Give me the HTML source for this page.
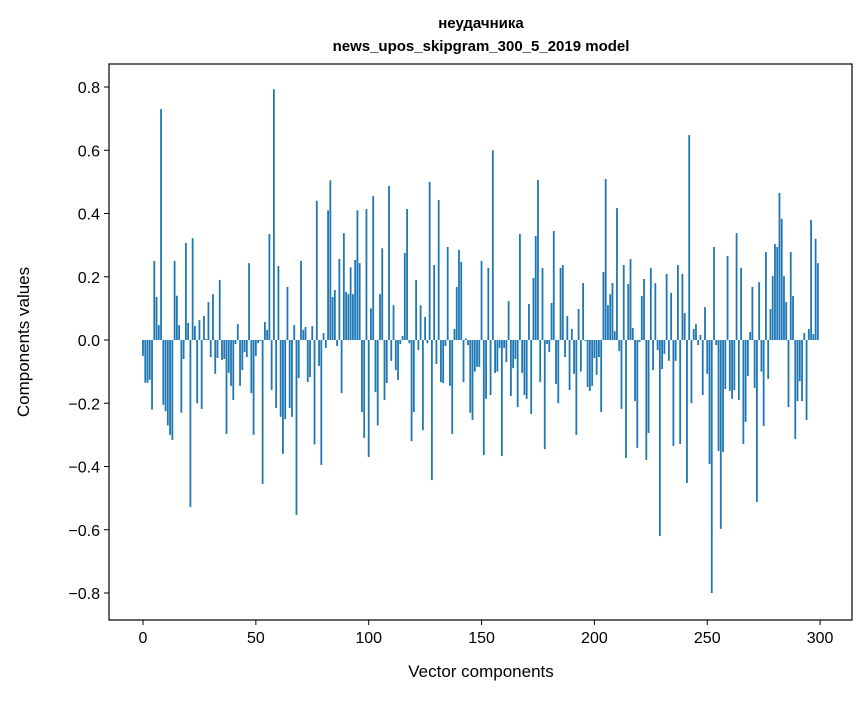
<!DOCTYPE html>
<html><head><meta charset="utf-8"><style>
body{margin:0;background:#fff;}
svg text{font-family:"Liberation Sans","DejaVu Sans",sans-serif;fill:#000;}
</style></head><body>
<svg id="chart" width="867" height="696" xmlns="http://www.w3.org/2000/svg">
<rect width="867" height="696" fill="#fff"/>
<text x="481" y="28" text-anchor="middle" font-size="15" font-weight="bold">неудачника</text>
<text x="481" y="51" text-anchor="middle" font-size="15" font-weight="bold">news_upos_skipgram_300_5_2019 model</text>
<g id="bars"></g>
<g id="axes"></g>
<rect x="109" y="64" width="743" height="556" fill="none" stroke="#000" stroke-width="1.2"/>
<text x="481" y="677" text-anchor="middle" font-size="17">Vector components</text>
<text transform="translate(29,342) rotate(-90)" text-anchor="middle" font-size="17">Components values</text>
</svg>
<script>
const values=[-0.05,-0.135,-0.135,-0.126,-0.22,0.25,0.136,0.047,0.73,-0.205,-0.225,-0.27,-0.30,-0.316,0.25,0.14,0.047,-0.23,-0.06,0.307,0.054,-0.528,0.322,0.044,-0.2,0.063,-0.218,0.076,0.003,0.12,-0.054,0.145,-0.107,-0.057,0.19,-0.063,-0.06,-0.297,-0.104,-0.145,-0.19,-0.013,0.05,-0.145,-0.095,-0.038,-0.054,0.243,-0.168,-0.3,
-0.05,-0.01,-0.003,-0.455,0.057,0.032,0.335,-0.158,0.793,-0.215,0.234,-0.243,-0.36,-0.25,0.168,-0.215,-0.243,0.047,-0.553,-0.12,0.25,0.032,0.041,-0.133,-0.117,0.044,-0.33,0.44,-0.082,-0.395,0.022,-0.025,0.41,0.505,0.136,0.158,-0.019,0.256,-0.168,0.338,0.152,0.145,0.23,0.145,0.253,0.41,0.243,-0.228,-0.31,0.414,
-0.37,0.1,0.455,-0.165,-0.27,0.145,0.29,-0.19,-0.136,0.487,-0.066,0.11,-0.095,-0.126,-0.013,0.013,0.275,0.414,-0.01,-0.32,-0.228,0.19,-0.032,0.11,-0.285,0.073,-0.01,0.5,-0.443,0.237,-0.076,0.443,-0.133,-0.136,-0.019,0.294,-0.145,-0.297,0.035,0.168,0.285,0.247,-0.133,0.005,-0.016,-0.23,-0.253,-0.1,-0.085,-0.085,
0.25,-0.364,-0.186,0.228,-0.174,0.6,-0.104,-0.1,-0.025,-0.367,-0.025,-0.07,0.123,-0.177,-0.089,-0.06,-0.212,0.335,-0.104,-0.174,-0.186,0.114,-0.234,0.196,0.329,0.506,-0.133,0.228,-0.345,-0.013,-0.038,0.117,0.345,-0.139,-0.2,0.228,0.237,-0.054,0.076,-0.158,0.035,-0.107,-0.3,0.098,-0.1,0.18,-0.003,-0.149,-0.161,-0.145,
-0.057,-0.11,-0.054,-0.228,0.215,0.509,0.11,0.145,0.18,0.028,0.417,-0.035,-0.218,0.237,-0.373,0.177,0.256,0.038,-0.193,-0.341,-0.006,0.139,0.193,-0.379,-0.294,0.228,-0.095,0.18,-0.032,-0.62,-0.092,-0.044,0.209,-0.066,0.149,-0.335,-0.066,0.237,-0.329,0.209,0.085,-0.452,0.648,-0.2,0.035,0.05,-0.016,0.016,-0.174,0.104,
-0.107,-0.392,-0.8,0.294,-0.016,-0.351,-0.597,-0.354,-0.155,0.266,-0.161,-0.186,-0.158,0.338,-0.19,0.228,-0.329,-0.259,-0.114,0.025,0.168,-0.152,-0.512,0.183,-0.1,-0.272,0.278,-0.123,0.098,0.202,0.303,0.294,0.465,0.383,0.202,0.12,-0.212,0.278,0.139,-0.313,-0.193,-0.13,-0.193,0.022,-0.253,0.035,0.38,0.019,0.32,0.243];
const xTicks=[0,50,100,150,200,250,300];
const yTicks=[-0.8,-0.6,-0.4,-0.2,0.0,0.2,0.4,0.6,0.8];
const NS="http://www.w3.org/2000/svg";
function xs(i){return 143+i*2.257;}
function ys(v){return 340-v*316.25;}
const bars=document.getElementById('bars');
values.forEach((v,i)=>{
 const r=document.createElementNS(NS,'rect');
 const y0=ys(0),y1=ys(v);
 r.setAttribute('x',xs(i)-0.9);
 r.setAttribute('width',1.8);
 r.setAttribute('y',Math.min(y0,y1));
 r.setAttribute('height',Math.abs(y1-y0));
 r.setAttribute('fill','#1f77b4');
 
 
 bars.appendChild(r);
});
const ax=document.getElementById('axes');
xTicks.forEach(t=>{
 const l=document.createElementNS(NS,'line');
 l.setAttribute('x1',xs(t));l.setAttribute('x2',xs(t));l.setAttribute('y1',620);l.setAttribute('y2',625);l.setAttribute('stroke','#000');
 
 
 ax.appendChild(l);
 const tx=document.createElementNS(NS,'text');
 tx.setAttribute('x',xs(t));tx.setAttribute('y',643);tx.setAttribute('text-anchor','middle');tx.setAttribute('font-size','16');
 tx.textContent=t;
 
 
 ax.appendChild(tx);
});
yTicks.forEach(t=>{
 const l=document.createElementNS(NS,'line');
 l.setAttribute('x1',104);l.setAttribute('x2',109);l.setAttribute('y1',ys(t));l.setAttribute('y2',ys(t));l.setAttribute('stroke','#000');
 
 
 ax.appendChild(l);
 const tx=document.createElementNS(NS,'text');
 tx.setAttribute('x',100);tx.setAttribute('y',ys(t)+6);tx.setAttribute('text-anchor','end');tx.setAttribute('font-size','16');
 tx.textContent=(t<0?'\u2212':'')+Math.abs(t).toFixed(1);
 
 
 ax.appendChild(tx);
});
</script>
</body></html>
